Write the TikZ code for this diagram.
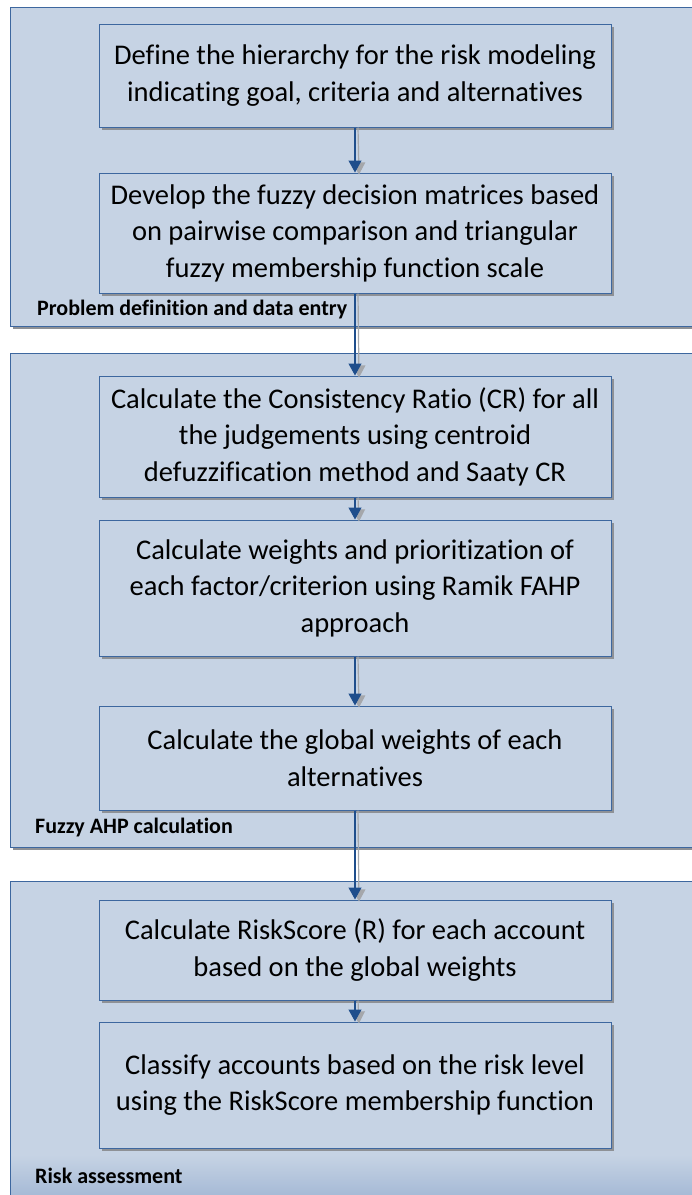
\documentclass[tikz,border=0pt]{standalone}
\usepackage{fontspec}
\setmainfont{Carlito}[Ligatures=NoCommon]
\usetikzlibrary{arrows.meta,shadows}

\definecolor{panelfill}{HTML}{C6D3E4}
\definecolor{paneldark}{HTML}{A6BAD6}
\definecolor{frameblue}{HTML}{3D679F}
\definecolor{arrowblue}{HTML}{1F4E8C}
\definecolor{shadowgray}{HTML}{8E9196}

\tikzset{
  panel/.style={fill=panelfill, draw=frameblue, line width=1pt,
    drop shadow={shadow xshift=3pt, shadow yshift=-3pt, fill=shadowgray, opacity=1}},
  stepbox/.style={draw=frameblue, fill=panelfill, line width=1pt,
    minimum width=512pt, inner sep=0pt, align=center,
    font=\fontsize{28.5}{36.5}\selectfont,
    drop shadow={shadow xshift=3pt, shadow yshift=-3pt, fill=shadowgray, opacity=1}},
  panellabel/.style={anchor=west, inner sep=0pt, font=\bfseries\fontsize{22}{26}\selectfont},
  flow/.style={draw=arrowblue, line width=1.2pt,
    -{Triangle[width=13pt,length=12pt]}},
  flowshadow/.style={draw=shadowgray!80, line width=1.2pt,
    -{Triangle[width=13pt,length=12pt]}}
}

\begin{document}
\begin{tikzpicture}[x=1pt,y=-1pt]
\useasboundingbox (0,0) rectangle (692,1195);
\clip (0,0) rectangle (692,1195);

% stage panels, running off the right edge
\path[panel] (10,7) rectangle (720,326);
\path[panel] (10,353) rectangle (720,847);
\path[panel] (10,881) rectangle (720,1230);
\shade[top color=panelfill, bottom color=paneldark]
  (10.5,1155) rectangle (720,1195);
\draw[frameblue, line width=1pt] (10,1155) -- (10,1195);

% process steps
\node[stepbox, minimum height=103pt] (s1) at (355,75.5)
  {Define the hierarchy for the risk modeling\\indicating goal, criteria and alternatives};
\node[stepbox, minimum height=120pt] (s2) at (355,233)
  {Develop the fuzzy decision matrices based\\on pairwise comparison and triangular\\fuzzy membership function scale};
\node[stepbox, minimum height=121pt] (s3) at (355,436.5)
  {Calculate the Consistency Ratio (CR) for all\\the judgements using centroid\\defuzzification method and Saaty CR};
\node[stepbox, minimum height=136pt] (s4) at (355,588)
  {Calculate weights and prioritization of\\each factor/criterion using Ramik FAHP\\approach};
\node[stepbox, minimum height=104pt] (s5) at (355,758)
  {Calculate the global weights of each\\alternatives};
\node[stepbox, minimum height=100pt] (s6) at (355,950)
  {Calculate RiskScore (R) for each account\\based on the global weights};
\node[stepbox, minimum height=126pt] (s7) at (355,1085)
  {Classify accounts based on the risk level\\using the RiskScore membership function};

% stage labels
\node[panellabel] (l1) at (37,310) {Problem definition and data entry};
\node[panellabel] (l2) at (35,827) {Fuzzy AHP calculation};
\node[panellabel] (l3) at (35,1176) {Risk assessment};

% connectors with their shadows
\foreach \a/\b in {s1/s2, s2/s3, s3/s4, s4/s5, s5/s6, s6/s7}{
  \draw[flowshadow] ([xshift=3pt]\a.south) -- ([xshift=4pt,yshift=-2pt]\b.north);
  \draw[flow] (\a.south) -- (\b.north);
}
\end{tikzpicture}
\end{document}
